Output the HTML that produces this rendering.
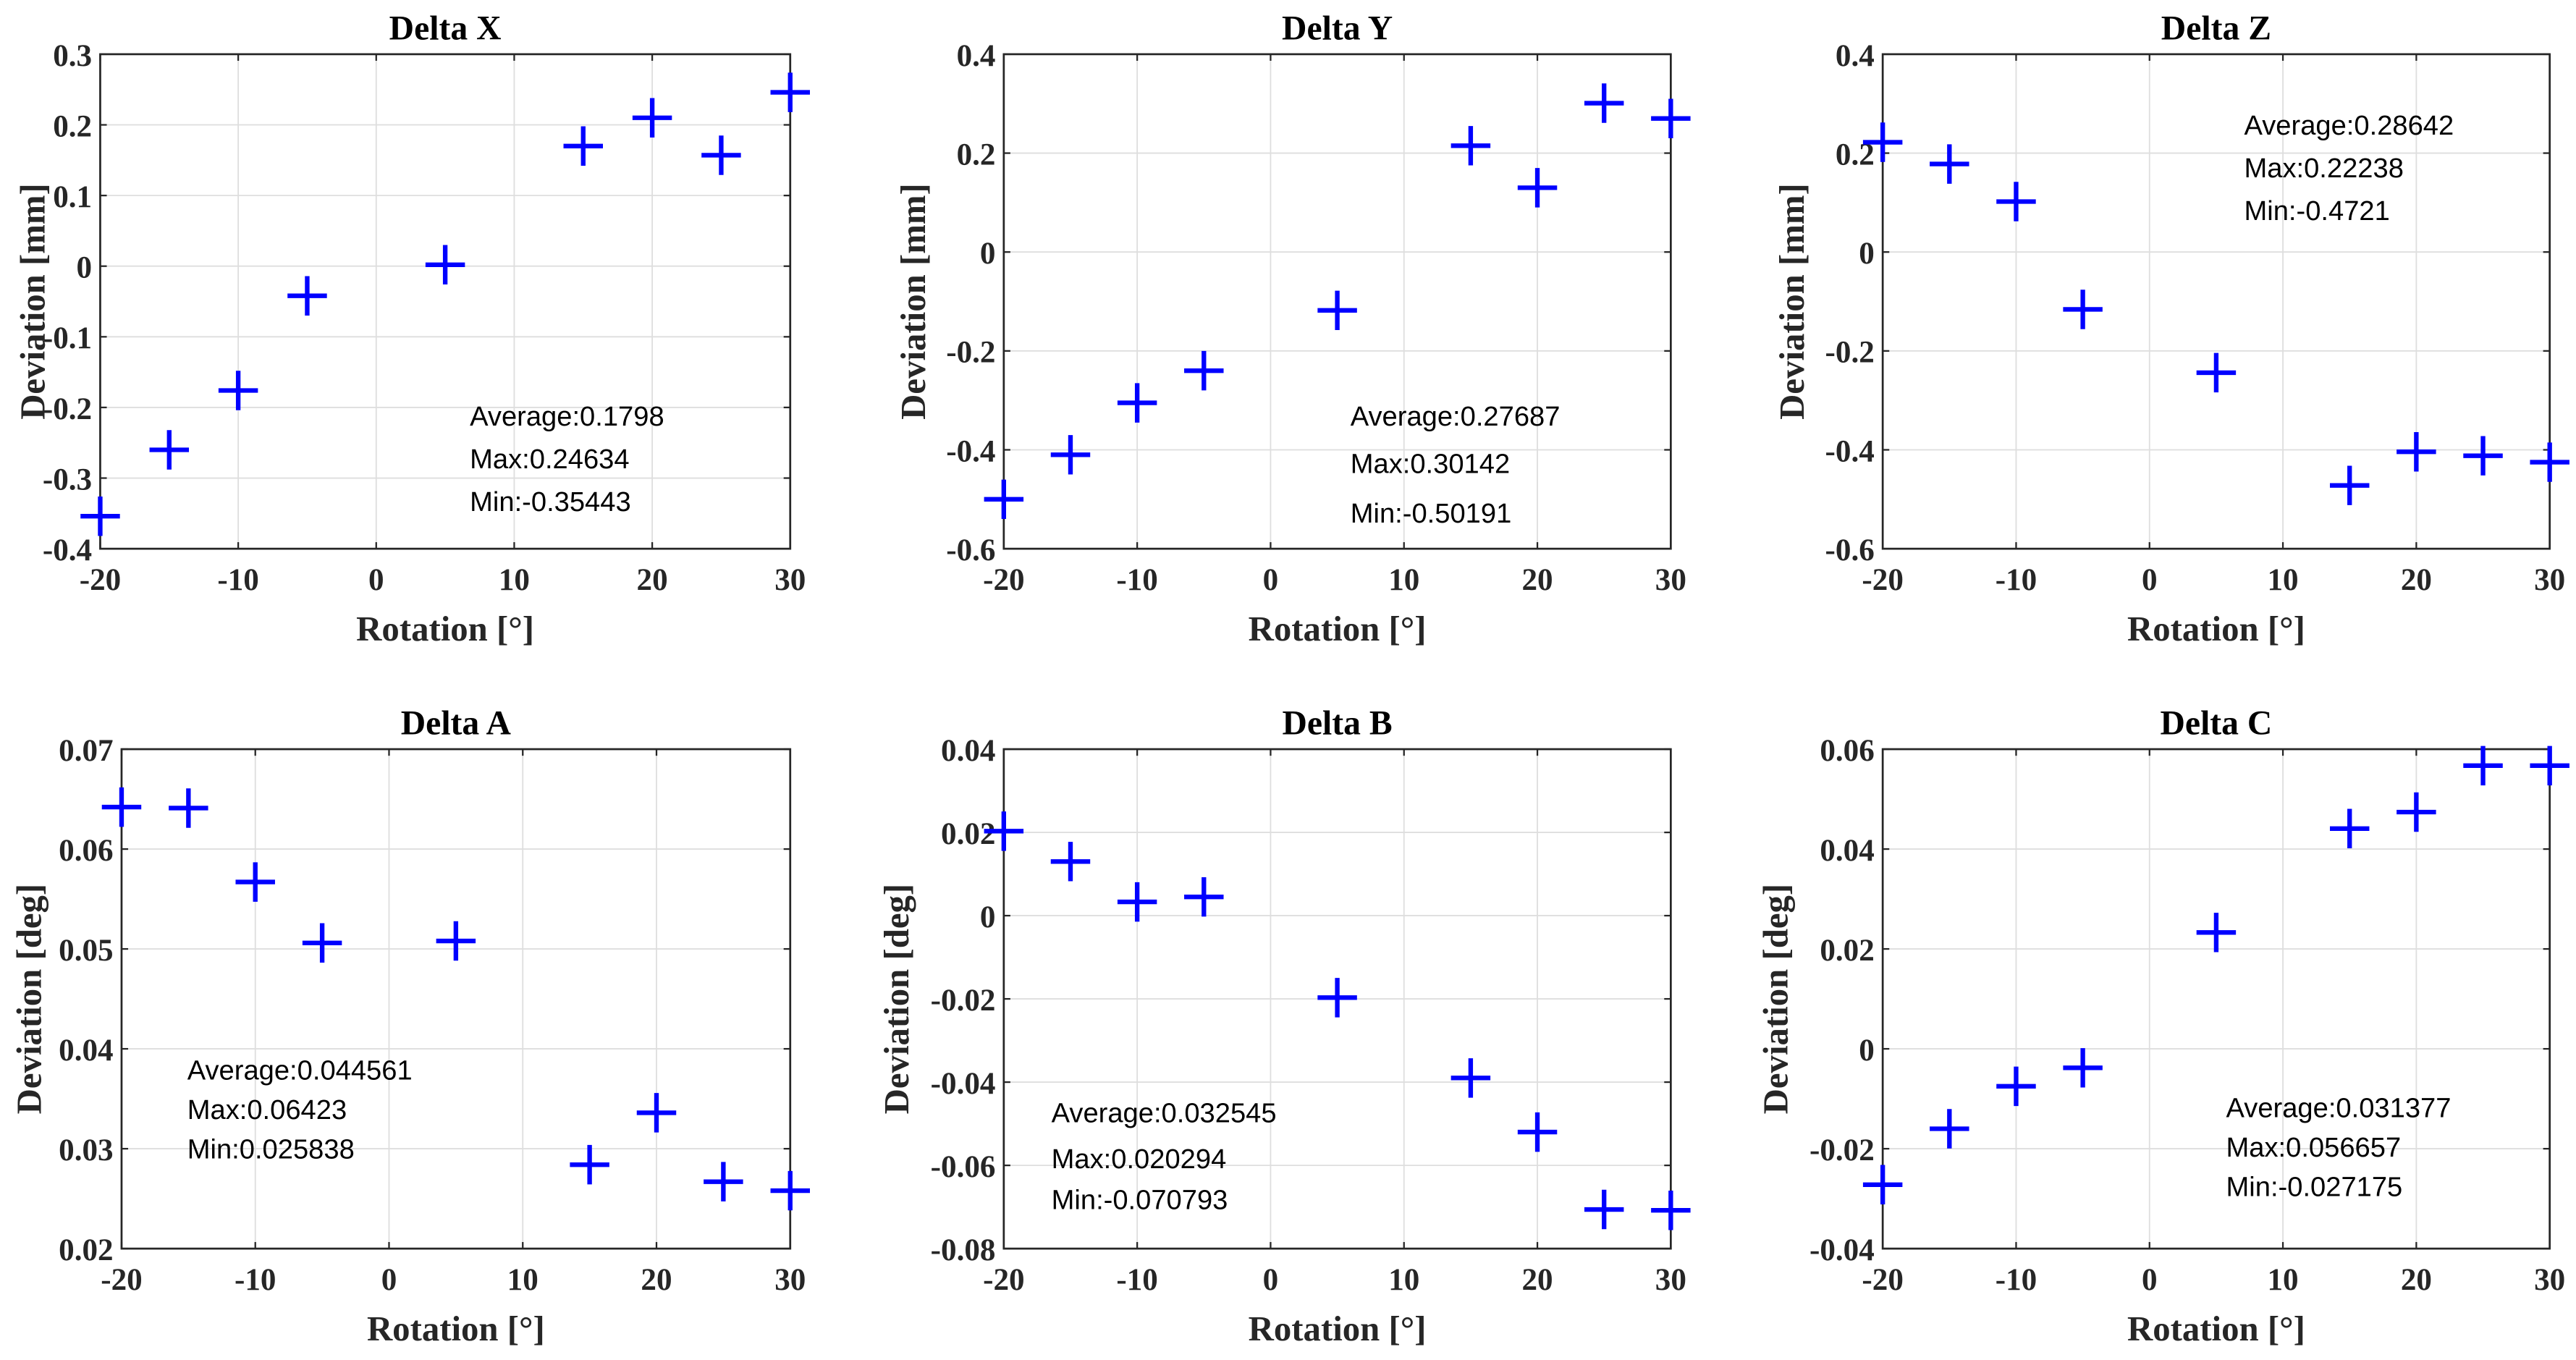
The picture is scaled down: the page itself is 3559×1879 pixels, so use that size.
<!DOCTYPE html>
<html><head><meta charset="utf-8"><style>
html,body{margin:0;padding:0;background:#fff;}
svg{display:block;}
.tick{font-family:"Liberation Serif",serif;font-weight:bold;font-size:19px;fill:#262626;}
.title{font-family:"Liberation Serif",serif;font-weight:bold;font-size:21px;fill:#000;}
.lab{font-family:"Liberation Serif",serif;font-weight:bold;font-size:21.5px;fill:#262626;}
.ann{font-family:"Liberation Sans",sans-serif;font-size:16.8px;fill:#000;}
</style></head><body>
<svg id="fig" width="3559" height="1879" viewBox="0 0 1568 827.8" preserveAspectRatio="none" xmlns="http://www.w3.org/2000/svg"></svg>
<script>
const rotations = [-20,-15,-10,-5,5,15,20,25,30];
const xTicks = [-20,-10,0,10,20,30];
const dxValues = [-0.354,-0.26,-0.176,-0.042,0.002,0.17,0.21,0.157,0.246];
const dyValues = [-0.5,-0.41,-0.305,-0.24,-0.118,0.215,0.13,0.301,0.27];
const dzValues = [0.222,0.178,0.102,-0.116,-0.244,-0.472,-0.404,-0.412,-0.425];
const daValues = [0.0642,0.0641,0.0567,0.0506,0.0508,0.0284,0.0336,0.0267,0.0258];
const dbValues = [0.0203,0.013,0.0033,0.0045,-0.0197,-0.039,-0.052,-0.0706,-0.0708];
const dcValues = [-0.0272,-0.016,-0.0075,-0.0038,0.0233,0.0441,0.0474,0.0567,0.0567];
const dxTicks = ['-0.4','-0.3','-0.2','-0.1','0','0.1','0.2','0.3'];
const dyTicks = ['-0.6','-0.4','-0.2','0','0.2','0.4'];
const dzTicks = ['-0.6','-0.4','-0.2','0','0.2','0.4'];
const daTicks = ['0.02','0.03','0.04','0.05','0.06','0.07'];
const dbTicks = ['-0.08','-0.06','-0.04','-0.02','0','0.02','0.04'];
const dcTicks = ['-0.04','-0.02','0','0.02','0.04','0.06'];
const dxNotes = ['Average:0.1798','Max:0.24634','Min:-0.35443'];
const dyNotes = ['Average:0.27687','Max:0.30142','Min:-0.50191'];
const dzNotes = ['Average:0.28642','Max:0.22238','Min:-0.4721'];
const daNotes = ['Average:0.044561','Max:0.06423','Min:0.025838'];
const dbNotes = ['Average:0.032545','Max:0.020294','Min:-0.070793'];
const dcNotes = ['Average:0.031377','Max:0.056657','Min:-0.027175'];

const NS='http://www.w3.org/2000/svg';
const svg=document.getElementById('fig');
function mk(tag,attrs,parent,text){const e=document.createElementNS(NS,tag);for(const k in attrs)e.setAttribute(k,attrs[k]);if(text!==undefined)e.textContent=text;(parent||svg).appendChild(e);return e;}

const panels=[
 {key:'delta-x',title:'Delta X',unit:'[mm]',vals:dxValues,ticks:dxTicks,notes:dxNotes,L:61,R:481,T:33,B:334,nx:286,ny:[253,279,305],ylx:20},
 {key:'delta-y',title:'Delta Y',unit:'[mm]',vals:dyValues,ticks:dyTicks,notes:dyNotes,L:611,R:1017,T:33,B:334,nx:822,ny:[253,282,312],ylx:556},
 {key:'delta-z',title:'Delta Z',unit:'[mm]',vals:dzValues,ticks:dzTicks,notes:dzNotes,L:1146,R:1552,T:33,B:334,nx:1366,ny:[76,102,128],ylx:1091},
 {key:'delta-a',title:'Delta A',unit:'[deg]',vals:daValues,ticks:daTicks,notes:daNotes,L:74,R:481,T:456,B:760,nx:114,ny:[651,675,699],ylx:18},
 {key:'delta-b',title:'Delta B',unit:'[deg]',vals:dbValues,ticks:dbTicks,notes:dbNotes,L:611,R:1017,T:456,B:760,nx:640,ny:[677,705,730],ylx:546},
 {key:'delta-c',title:'Delta C',unit:'[deg]',vals:dcValues,ticks:dcTicks,notes:dcNotes,L:1146,R:1552,T:456,B:760,nx:1355,ny:[674,698,722],ylx:1081},
];

panels.forEach(p=>{
 const g=mk('g',{});
 
 
 const tv=p.ticks.map(Number);
 const ymin=tv[0],ymax=tv[tv.length-1];
 const xs=v=>p.L+(v-(-20))/(50)*(p.R-p.L);
 const ys=v=>p.B-(v-ymin)/(ymax-ymin)*(p.B-p.T);
 xTicks.forEach(t=>{const l=mk('line',{x1:xs(t),x2:xs(t),y1:p.T,y2:p.B,stroke:'#dedede','stroke-width':0.8},g);
  });
 tv.forEach(t=>{const l=mk('line',{x1:p.L,x2:p.R,y1:ys(t),y2:ys(t),stroke:'#dedede','stroke-width':0.8},g);
  });
 const box=mk('rect',{x:p.L,y:p.T,width:p.R-p.L,height:p.B-p.T,fill:'none',stroke:'#262626','stroke-width':1.2},g);
 
 xTicks.forEach(t=>{
  mk('line',{x1:xs(t),x2:xs(t),y1:p.B,y2:p.B-4,stroke:'#262626','stroke-width':1},g);
  mk('line',{x1:xs(t),x2:xs(t),y1:p.T,y2:p.T+4,stroke:'#262626','stroke-width':1},g);
  const tx=mk('text',{x:xs(t),y:p.B+25,'text-anchor':'middle',class:'tick'},g,String(t));
  
 });
 p.ticks.forEach((s,i)=>{
  const t=tv[i];
  mk('line',{x1:p.L,x2:p.L+4,y1:ys(t),y2:ys(t),stroke:'#262626','stroke-width':1},g);
  mk('line',{x1:p.R,x2:p.R-4,y1:ys(t),y2:ys(t),stroke:'#262626','stroke-width':1},g);
  const tx=mk('text',{x:p.L-5,y:ys(t)+7,'text-anchor':'end',class:'tick'},g,s);
  
 });
 const ti=mk('text',{x:(p.L+p.R)/2,y:p.T-9,'text-anchor':'middle',class:'title'},g,p.title);
 
 const xl=mk('text',{x:(p.L+p.R)/2,y:p.B+56,'text-anchor':'middle',class:'lab'},g,'Rotation [°]');
 
 const cy=(p.T+p.B)/2;
 const yl=mk('text',{x:p.ylx+7,y:cy,'text-anchor':'middle',class:'lab',transform:'rotate(-90 '+(p.ylx+7)+' '+cy+')'},g,'Deviation '+p.unit);
 
 p.notes.forEach((n,i)=>{const a=mk('text',{x:p.nx,y:p.ny[i]+6,class:'ann'},g,n);
  });
 rotations.forEach((r,i)=>{
  const x=xs(r),y=ys(p.vals[i]);
  const m=mk('path',{d:`M${x-12},${y}H${x+12}M${x},${y-12}V${y+12}`,stroke:'#0000ff','stroke-width':2.8,fill:'none'},g);
  
 });
});
</script>
</body></html>
